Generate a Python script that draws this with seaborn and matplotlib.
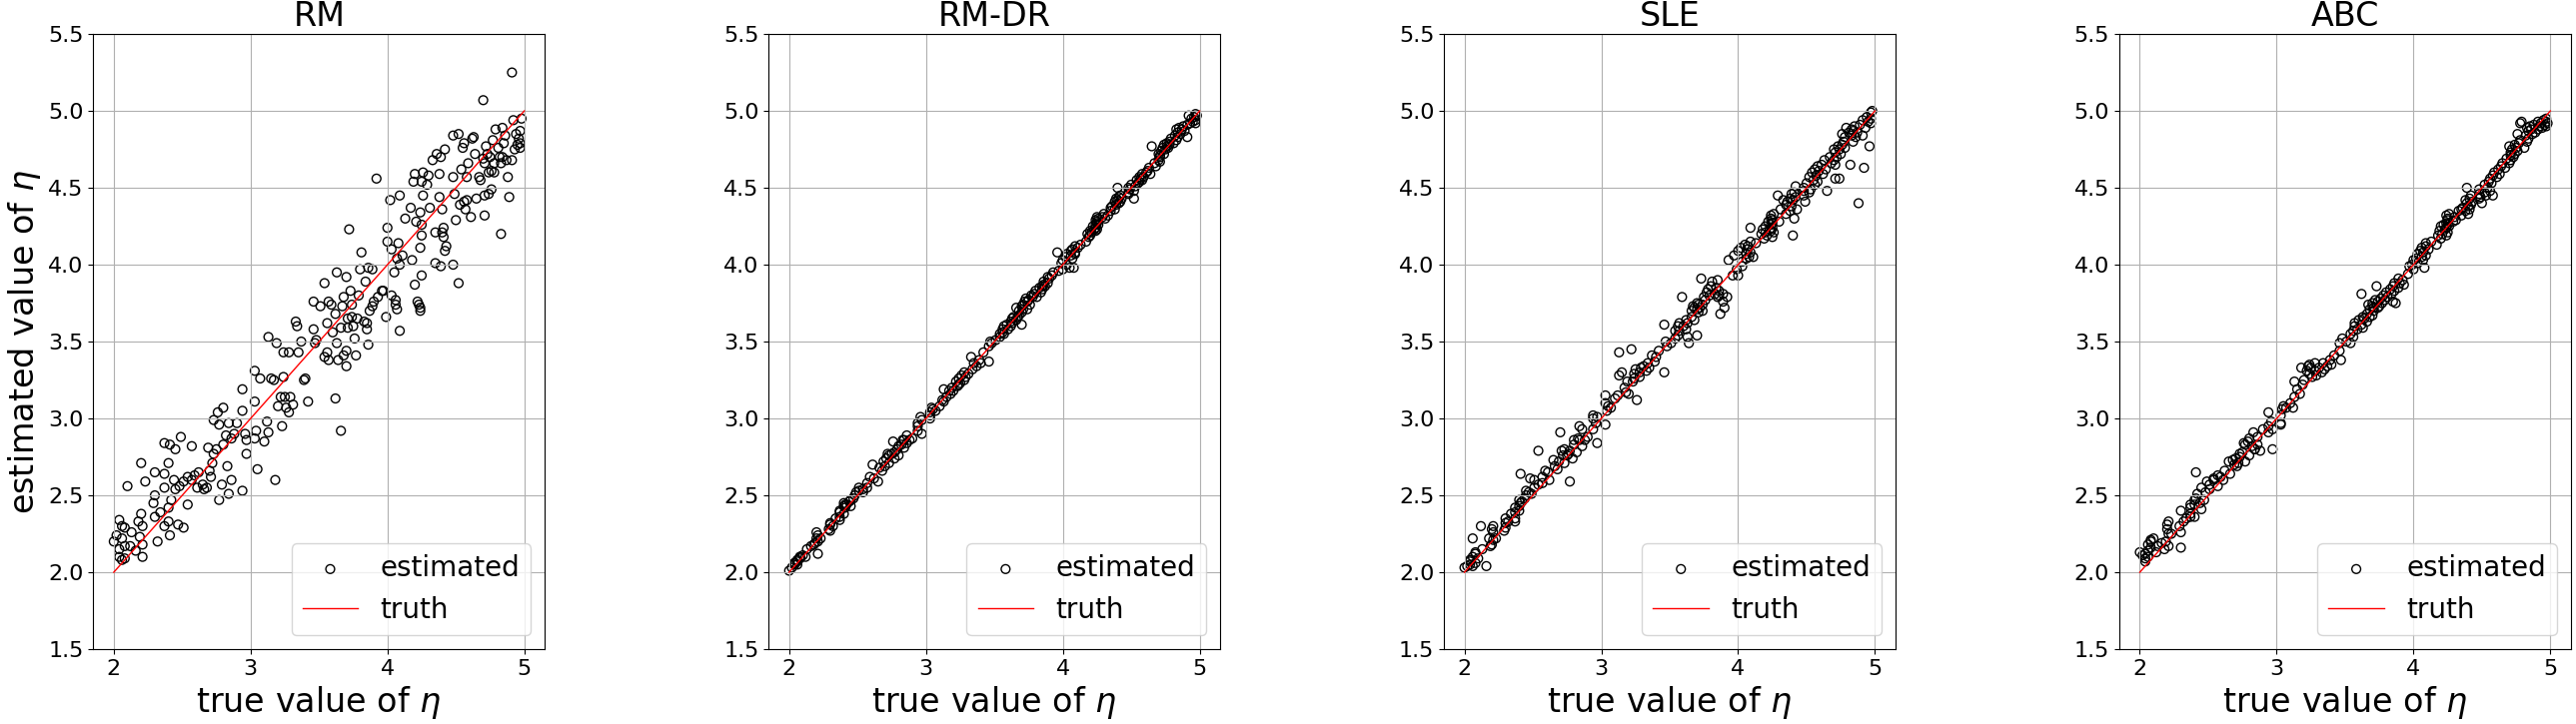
import numpy as np
import pandas as pd
import matplotlib
matplotlib.use('Agg')
import matplotlib.pyplot as plt
import seaborn as sns

# true eta values (shared by all four methods)
eta_true = [
    2.00, 2.04, 2.06, 2.08, 2.02, 2.06, 2.04, 2.08, 2.04, 2.06, 2.08, 2.10, 2.13, 2.12, 2.16, 2.20, 2.18, 2.20, 2.21, 2.21, 2.21, 2.19,
    2.23, 2.30, 2.29, 2.30, 2.32, 2.30, 2.34, 2.37, 2.41, 2.45, 2.49, 2.37, 2.40, 2.37, 2.44, 2.37, 2.40, 2.41, 2.40, 2.42, 2.45, 2.48, 2.47, 2.51, 2.54, 2.51, 2.54,
    2.57, 2.57, 2.59, 2.62, 2.61, 2.65, 2.66, 2.68, 2.69, 2.71, 2.70, 2.72, 2.73, 2.73, 2.76, 2.80, 2.77, 2.84, 2.90, 2.75, 2.77, 2.79, 2.80, 2.82, 2.83, 2.84, 2.86, 2.86, 2.88,
    2.94, 2.94, 2.94, 2.96, 2.97, 2.97, 3.05, 3.03, 3.03, 3.04, 3.03, 3.07, 3.10, 3.12, 3.13, 3.13, 3.15, 3.17, 3.18, 3.19, 3.20, 3.22, 3.24, 3.24, 3.23, 3.25, 3.26, 3.28, 3.28, 3.29, 3.31,
    3.33, 3.34, 3.35, 3.37, 3.39, 3.40, 3.42, 3.46, 3.46, 3.47, 3.48, 3.51, 3.54, 3.54, 3.56, 3.56, 3.57, 3.57, 3.59, 3.60, 3.62, 3.62, 3.63, 3.63, 3.64, 3.66, 3.66, 3.67, 3.68, 3.68, 3.70, 3.70, 3.70, 3.71, 3.71, 3.72,
    3.73, 3.74, 3.74, 3.75, 3.76, 3.77, 3.78, 3.79, 3.80, 3.81, 3.83, 3.84, 3.85, 3.85, 3.86, 3.86, 3.87, 3.89, 3.89, 3.90, 3.92, 3.93, 3.96, 3.97, 3.99,
    4.00, 4.00, 4.02, 4.03, 4.03, 4.05, 4.06, 4.06, 4.07, 4.07, 4.08, 4.09, 4.09, 4.09, 4.11, 4.13, 4.17, 4.18, 4.19, 4.20, 4.20, 4.21, 4.22, 4.23, 4.24, 4.24, 4.24, 4.24, 4.25, 4.25, 4.25, 4.25, 4.26, 4.26, 4.29, 4.30, 4.31, 4.33, 4.35, 4.35,
    4.36, 4.38, 4.38, 4.39, 4.39, 4.40, 4.40, 4.41, 4.41, 4.42, 4.42, 4.43, 4.48, 4.48, 4.48, 4.49, 4.50, 4.52, 4.52, 4.53, 4.54, 4.55, 4.56, 4.56, 4.57, 4.58, 4.58, 4.59, 4.61, 4.62, 4.63, 4.64, 4.65, 4.67, 4.68, 4.70, 4.70, 4.71, 4.71, 4.71,
    4.72, 4.73, 4.74, 4.74, 4.75, 4.76, 4.76, 4.77, 4.78, 4.78, 4.79, 4.81, 4.82, 4.83, 4.83, 4.84, 4.84, 4.85, 4.86, 4.87, 4.88, 4.89, 4.91, 4.91, 4.92, 4.93, 4.94, 4.95, 4.96, 4.97, 4.97, 4.98, 4.97,
]

est_rm = [
    2.20, 2.34, 2.30, 2.29, 2.24, 2.22, 2.15, 2.17, 2.10, 2.08, 2.09, 2.56, 2.26, 2.17, 2.14, 2.71, 2.33, 2.38, 2.30, 2.18, 2.10, 2.23,
    2.59, 2.65, 2.45, 2.50, 2.20, 2.36, 2.39, 2.84, 2.83, 2.80, 2.88, 2.64, 2.71, 2.55, 2.60, 2.30, 2.33, 2.24, 2.42, 2.47, 2.54, 2.56, 2.31, 2.29, 2.44, 2.59, 2.62,
    2.82, 2.60, 2.63, 2.65, 2.55, 2.57, 2.54, 2.55, 2.81, 2.62, 2.66, 2.71, 2.77, 2.99, 3.04, 3.07, 2.96, 2.97, 2.97, 2.80, 2.47, 2.57, 2.83, 2.89, 2.69, 2.51, 2.60, 2.87, 2.90,
    2.53, 3.19, 3.05, 2.90, 2.86, 2.77, 2.67, 3.31, 3.11, 2.92, 2.87, 3.26, 2.85, 2.98, 3.53, 2.91, 3.26, 3.25, 2.60, 3.49, 3.08, 3.14, 3.43, 3.27, 2.95, 3.14, 3.07, 3.04, 3.43, 3.14, 3.09,
    3.63, 3.60, 3.43, 3.50, 3.25, 3.26, 3.11, 3.76, 3.58, 3.49, 3.51, 3.73, 3.88, 3.40, 3.43, 3.62, 3.76, 3.38, 3.74, 3.56, 3.13, 3.68, 3.95, 3.49, 3.38, 3.59, 2.92, 3.73, 3.41, 3.79, 3.92, 3.34, 3.44, 3.65, 3.59, 4.23,
    3.83, 3.74, 3.66, 3.60, 3.52, 3.41, 3.65, 3.80, 3.97, 4.08, 3.63, 3.89, 3.62, 3.58, 3.98, 3.48, 3.70, 3.97, 3.73, 3.76, 4.56, 3.79, 3.83, 3.83, 3.66,
    4.24, 4.15, 4.42, 3.80, 4.10, 3.95, 3.74, 3.77, 3.71, 4.04, 4.14, 4.45, 3.57, 4.00, 4.06, 4.30, 4.37, 4.03, 4.54, 3.87, 4.59, 4.28, 3.76, 3.74, 3.72, 3.70, 4.34, 4.11, 4.26, 4.54, 3.93, 4.19, 4.45, 4.60, 4.52, 4.58, 4.37, 4.68, 4.21, 4.01,
    4.72, 4.59, 4.44, 4.70, 3.99, 4.21, 4.36, 4.24, 4.18, 4.75, 4.09, 4.12, 4.84, 4.57, 4.00, 4.46, 4.29, 3.88, 4.85, 4.39, 4.62, 4.76, 4.41, 4.79, 4.36, 4.42, 4.57, 4.66, 4.31, 4.82, 4.83, 4.72, 4.43, 4.57, 4.55, 5.07, 4.69, 4.66, 4.45, 4.32,
    4.77, 4.72, 4.60, 4.46, 4.70, 4.49, 4.61, 4.81, 4.66, 4.60, 4.88, 4.76, 4.70, 4.66, 4.20, 4.89, 4.70, 4.79, 4.84, 4.68, 4.57, 4.44, 5.25, 4.68, 4.94, 4.75, 4.85, 4.78, 4.82, 4.79, 4.87, 4.95, 4.76,
]

est_rmdr = [
    2.01, 2.06, 2.08, 2.10, 2.03, 2.07, 2.05, 2.09, 2.06, 2.05, 2.10, 2.11, 2.15, 2.10, 2.17, 2.26, 2.18, 2.22, 2.20, 2.24, 2.12, 2.19,
    2.22, 2.31, 2.28, 2.32, 2.30, 2.27, 2.35, 2.36, 2.44, 2.47, 2.52, 2.40, 2.38, 2.34, 2.46, 2.39, 2.43, 2.42, 2.45, 2.44, 2.43, 2.50, 2.48, 2.53, 2.54, 2.55, 2.52,
    2.58, 2.55, 2.62, 2.61, 2.70, 2.59, 2.68, 2.66, 2.72, 2.74, 2.69, 2.77, 2.71, 2.76, 2.85, 2.82, 2.78, 2.86, 2.87, 2.77, 2.74, 2.80, 2.76, 2.83, 2.86, 2.81, 2.89, 2.84, 2.86,
    2.97, 2.92, 2.95, 3.01, 2.90, 2.99, 3.06, 3.04, 3.00, 3.07, 3.02, 3.05, 3.08, 3.12, 3.19, 3.11, 3.14, 3.18, 3.16, 3.20, 3.18, 3.24, 3.22, 3.26, 3.21, 3.23, 3.28, 3.25, 3.30, 3.27, 3.29,
    3.40, 3.32, 3.36, 3.34, 3.38, 3.36, 3.43, 3.37, 3.47, 3.50, 3.49, 3.51, 3.55, 3.53, 3.58, 3.56, 3.60, 3.55, 3.61, 3.58, 3.63, 3.60, 3.65, 3.62, 3.66, 3.72, 3.64, 3.66, 3.70, 3.67, 3.73, 3.61, 3.69, 3.74, 3.71, 3.76,
    3.78, 3.71, 3.76, 3.77, 3.74, 3.80, 3.79, 3.81, 3.83, 3.79, 3.85, 3.82, 3.86, 3.84, 3.89, 3.87, 3.86, 3.92, 3.88, 3.91, 3.93, 3.95, 4.08, 3.96, 4.01,
    3.97, 4.03, 4.05, 4.00, 4.07, 3.98, 4.06, 4.09, 4.04, 4.10, 3.98, 4.07, 4.12, 4.08, 4.11, 4.13, 4.15, 4.20, 4.18, 4.22, 4.19, 4.21, 4.25, 4.23, 4.22, 4.26, 4.29, 4.24, 4.31, 4.27, 4.23, 4.28, 4.30, 4.26, 4.31, 4.33, 4.30, 4.32, 4.37, 4.35,
    4.38, 4.36, 4.41, 4.39, 4.43, 4.50, 4.42, 4.40, 4.44, 4.45, 4.41, 4.43, 4.47, 4.50, 4.46, 4.49, 4.52, 4.43, 4.48, 4.51, 4.55, 4.53, 4.57, 4.54, 4.56, 4.59, 4.55, 4.57, 4.60, 4.61, 4.63, 4.59, 4.77, 4.66, 4.64, 4.72, 4.68, 4.71, 4.67, 4.70,
    4.74, 4.76, 4.72, 4.78, 4.75, 4.77, 4.79, 4.76, 4.80, 4.78, 4.82, 4.79, 4.84, 4.81, 4.88, 4.83, 4.86, 4.89, 4.85, 4.88, 4.90, 4.87, 4.91, 4.83, 4.97, 4.92, 4.95, 4.93, 4.96, 4.94, 4.98, 4.97, 4.92,
]

est_sle = [
    2.03, 2.07, 2.22, 2.12, 2.04, 2.10, 2.05, 2.13, 2.08, 2.04, 2.06, 2.09, 2.15, 2.30, 2.04, 2.28, 2.22, 2.18, 2.26, 2.30, 2.21, 2.17,
    2.22, 2.32, 2.27, 2.35, 2.33, 2.29, 2.38, 2.42, 2.64, 2.50, 2.51, 2.35, 2.47, 2.39, 2.48, 2.33, 2.43, 2.45, 2.40, 2.46, 2.53, 2.61, 2.52, 2.55, 2.79, 2.60, 2.57,
    2.58, 2.62, 2.66, 2.60, 2.65, 2.73, 2.69, 2.67, 2.72, 2.79, 2.91, 2.76, 2.71, 2.80, 2.77, 2.83, 2.59, 2.86, 2.88, 2.76, 2.79, 2.74, 2.86, 2.78, 2.87, 2.95, 2.82, 2.93, 2.86,
    3.00, 2.93, 3.02, 2.97, 2.84, 3.01, 3.08, 3.15, 2.96, 3.05, 3.10, 3.07, 3.13, 3.15, 3.43, 3.28, 3.30, 3.20, 3.17, 3.24, 3.16, 3.45, 3.29, 3.26, 3.24, 3.32, 3.12, 3.30, 3.27, 3.33, 3.34,
    3.31, 3.36, 3.33, 3.41, 3.37, 3.40, 3.44, 3.30, 3.61, 3.50, 3.47, 3.49, 3.57, 3.52, 3.60, 3.54, 3.62, 3.57, 3.79, 3.60, 3.58, 3.64, 3.62, 3.53, 3.49, 3.70, 3.66, 3.73, 3.64, 3.72, 3.54, 3.71, 3.75, 3.69, 3.74, 3.72,
    3.91, 3.74, 3.70, 3.79, 3.77, 3.82, 3.84, 3.80, 3.86, 3.89, 3.81, 3.85, 3.79, 3.90, 3.83, 3.80, 3.68, 3.81, 3.76, 3.72, 3.79, 4.03, 3.93, 4.06, 3.97,
    3.93, 4.09, 4.11, 4.02, 3.99, 4.13, 4.07, 4.04, 4.10, 4.12, 4.05, 4.24, 4.15, 4.08, 4.05, 4.14, 4.20, 4.23, 4.17, 4.21, 4.25, 4.19, 4.28, 4.23, 4.26, 4.30, 4.22, 4.32, 4.18, 4.27, 4.29, 4.24, 4.33, 4.21, 4.45, 4.28, 4.36, 4.42, 4.39, 4.33,
    4.41, 4.35, 4.43, 4.46, 4.38, 4.19, 4.42, 4.47, 4.30, 4.44, 4.51, 4.36, 4.48, 4.45, 4.50, 4.41, 4.53, 4.47, 4.57, 4.49, 4.60, 4.55, 4.52, 4.62, 4.58, 4.64, 4.54, 4.61, 4.65, 4.59, 4.68, 4.62, 4.48, 4.70, 4.66, 4.75, 4.68, 4.73, 4.65, 4.56,
    4.70, 4.77, 4.56, 4.75, 4.72, 4.78, 4.85, 4.80, 4.83, 4.76, 4.89, 4.86, 4.65, 4.88, 4.84, 4.80, 4.87, 4.90, 4.83, 4.86, 4.40, 4.91, 4.94, 4.84, 4.63, 4.89, 4.96, 4.93, 4.77, 4.99, 4.95, 5.00, 4.92,
]

est_abc = [
    2.13, 2.09, 2.18, 2.20, 2.11, 2.14, 2.07, 2.21, 2.12, 2.10, 2.16, 2.22, 2.17, 2.13, 2.19, 2.31, 2.15, 2.28, 2.25, 2.17, 2.33, 2.20,
    2.25, 2.40, 2.30, 2.16, 2.33, 2.26, 2.35, 2.44, 2.65, 2.41, 2.59, 2.36, 2.47, 2.42, 2.45, 2.38, 2.44, 2.48, 2.36, 2.51, 2.55, 2.52, 2.47, 2.57, 2.60, 2.54, 2.61,
    2.63, 2.56, 2.62, 2.66, 2.60, 2.72, 2.64, 2.73, 2.70, 2.69, 2.74, 2.71, 2.77, 2.75, 2.84, 2.87, 2.83, 2.80, 2.93, 2.78, 2.72, 2.85, 2.76, 2.82, 2.91, 2.80, 2.88, 2.83, 2.79,
    2.95, 3.04, 2.91, 2.98, 2.80, 2.93, 3.08, 3.02, 2.97, 3.06, 2.96, 3.07, 3.10, 3.07, 3.24, 3.14, 3.19, 3.16, 3.33, 3.22, 3.25, 3.31, 3.35, 3.29, 3.34, 3.33, 3.27, 3.31, 3.36, 3.28, 3.33,
    3.30, 3.36, 3.32, 3.34, 3.38, 3.35, 3.41, 3.44, 3.49, 3.38, 3.52, 3.50, 3.49, 3.55, 3.57, 3.53, 3.62, 3.60, 3.58, 3.64, 3.81, 3.61, 3.66, 3.59, 3.65, 3.68, 3.63, 3.74, 3.66, 3.71, 3.73, 3.67, 3.75, 3.70, 3.72, 3.77,
    3.86, 3.72, 3.76, 3.73, 3.78, 3.75, 3.80, 3.77, 3.82, 3.79, 3.84, 3.81, 3.76, 3.86, 3.83, 3.88, 3.75, 3.85, 3.91, 3.88, 3.90, 3.87, 3.94, 3.99, 4.00,
    4.03, 3.97, 4.04, 4.07, 4.01, 4.09, 4.05, 4.11, 4.08, 4.03, 3.98, 4.14, 4.06, 4.12, 4.10, 4.15, 4.13, 4.19, 4.22, 4.17, 4.25, 4.20, 4.26, 4.23, 4.19, 4.27, 4.24, 4.32, 4.21, 4.29, 4.26, 4.30, 4.25, 4.33, 4.28, 4.31, 4.29, 4.35, 4.36, 4.32,
    4.37, 4.42, 4.35, 4.40, 4.50, 4.33, 4.38, 4.43, 4.36, 4.39, 4.45, 4.41, 4.46, 4.43, 4.49, 4.44, 4.40, 4.47, 4.52, 4.45, 4.50, 4.54, 4.48, 4.56, 4.53, 4.58, 4.45, 4.60, 4.57, 4.62, 4.59, 4.64, 4.66, 4.63, 4.69, 4.77, 4.66, 4.71, 4.68, 4.73,
    4.75, 4.70, 4.78, 4.72, 4.76, 4.74, 4.85, 4.79, 4.92, 4.81, 4.93, 4.76, 4.84, 4.80, 4.89, 4.87, 4.82, 4.90, 4.88, 4.85, 4.91, 4.86, 4.93, 4.88, 4.90, 4.92, 4.89, 4.94, 4.91, 4.93, 4.95, 4.92, 4.90,
]

methods = ['RM', 'RM-DR', 'SLE', 'ABC']
estimates = [est_rm, est_rmdr, est_sle, est_abc]
eta_range = [2.0, 5.0]
y_ticks = [1.5, 2.0, 2.5, 3.0, 3.5, 4.0, 4.5, 5.0, 5.5]
x_ticks = [2, 3, 4, 5]

df = pd.concat([pd.DataFrame({'method': m, 'true': eta_true, 'estimated': e})
                for m, e in zip(methods, estimates)], ignore_index=True)

fig, axes = plt.subplots(1, 4, figsize=(25.78, 7.25), dpi=100)
plt.subplots_adjust(left=0.0362, right=0.998, bottom=0.1034, top=0.953, wspace=0.4956)

for ax, m in zip(axes, methods):
    sub = df[df['method'] == m]
    sns.scatterplot(data=sub, x='true', y='estimated', ax=ax, s=40,
                    facecolor='none', edgecolor='black', linewidth=1, label='estimated')
    sns.lineplot(x=eta_range, y=eta_range, ax=ax, color='red', linewidth=1, label='truth')
    ax.set_ylim(1.5, 5.5)
    ax.set_yticks(y_ticks)
    ax.set_xticks(x_ticks)
    ax.tick_params(labelsize=16)
    ax.grid(True)
    ax.set_title(m, fontsize=24)
    ax.set_xlabel(r'true value of $\eta$', fontsize=24)
    ax.set_ylabel('')
    ax.legend(loc='lower right', fontsize=20)

axes[0].set_ylabel(r'estimated value of $\eta$', fontsize=24)

fig.savefig('out.png', dpi=100)
